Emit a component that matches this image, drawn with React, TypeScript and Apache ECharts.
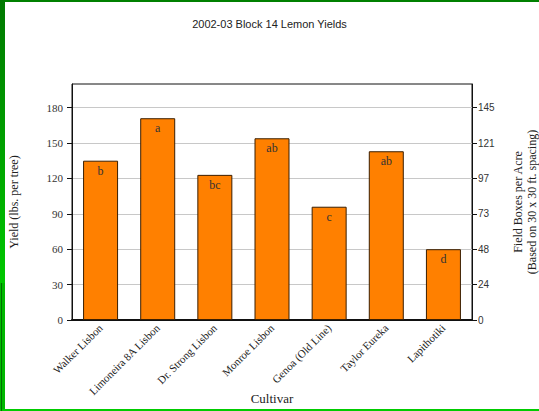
import React, { useEffect, useRef } from "react";
import * as echarts from "echarts";

const categories = [
  "Walker Lisbon",
  "Limoneira 8A Lisbon",
  "Dr. Strong Lisbon",
  "Monroe Lisbon",
  "Genoa (Old Line)",
  "Taylor Eureka",
  "Lapithotiki",
];
const yields = [135, 171, 123, 154, 96, 143, 60];
const letters = ["b", "a", "bc", "ab", "c", "ab", "d"];
const leftTicks = [0, 30, 60, 90, 120, 150, 180];
// 30 x 30 ft spacing -> 48.4 trees/acre; 60 lbs per field box
const boxFactor = 43560 / 900 / 60;

const SERIF = "'Liberation Serif', 'Times New Roman', serif";
const SANS = "'Liberation Sans', Arial, sans-serif";

export default function App() {
  const ref = useRef<HTMLDivElement>(null);
  useEffect(() => {
    document.body.style.margin = "0";
    const chart = echarts.init(ref.current!, null, { renderer: "svg" });
    chart.setOption({
      animation: false,
      backgroundColor: "#ffffff",
      title: {
        text: "2002-03 Block 14 Lemon Yields",
        left: "center",
        top: 13,
        textStyle: { fontFamily: SANS, fontSize: 11, fontWeight: "normal", color: "#222" },
      },
      grid: {
        left: 72,
        right: 67,
        top: 84,
        bottom: 91,
        show: true,
        borderColor: "#111",
        borderWidth: 1,
        outerBoundsMode: "none",
        containLabel: false,
      },
      xAxis: {
        type: "category",
        data: categories,
        name: "Cultivar",
        nameLocation: "middle",
        nameGap: 72,
        nameMoveOverlap: false,
        nameTextStyle: { fontFamily: SERIF, fontSize: 13, color: "#222" },
        axisLine: { lineStyle: { color: "#111", width: 2 } },
        axisTick: { alignWithLabel: true, length: 4, lineStyle: { color: "#111" } },
        axisLabel: {
          rotate: 45,
          fontFamily: SERIF,
          fontSize: 11,
          color: "#222",
          margin: 6,
          interval: 0,
        },
      },
      yAxis: [
        {
          type: "value",
          min: 0,
          max: 200,
          interval: 30,
          name: "Yield (lbs. per tree)",
          nameLocation: "middle",
          nameRotate: 90,
          nameGap: 52,
          nameMoveOverlap: false,
          nameTextStyle: { fontFamily: SERIF, fontSize: 12, color: "#222" },
          axisLine: { show: true, lineStyle: { color: "#111" } },
          axisTick: { show: true, length: 5, lineStyle: { color: "#111" }, customValues: leftTicks },
          axisLabel: {
            fontFamily: SERIF,
            fontSize: 11,
            color: "#333",
            margin: 9,
            customValues: leftTicks,
          },
          splitLine: { show: true, lineStyle: { color: "#c8c8c8", width: 1 } },
        },
        {
          type: "value",
          min: 0,
          max: 200,
          interval: 30,
          position: "right",
          name: "Field Boxes per Acre\n(Based on 30 x 30 ft. spacing)",
          nameLocation: "middle",
          nameRotate: 90,
          nameGap: 39,
          nameMoveOverlap: false,
          nameTextStyle: { fontFamily: SERIF, fontSize: 12, color: "#222", lineHeight: 14 },
          axisLine: { show: true, lineStyle: { color: "#111" } },
          axisTick: { show: true, length: 5, lineStyle: { color: "#111" }, customValues: leftTicks },
          axisLabel: {
            fontFamily: SANS,
            fontSize: 10,
            color: "#333",
            margin: 6,
            customValues: leftTicks,
            formatter: (v: number) => String(Math.round(v * boxFactor)),
          },
          splitLine: { show: false },
        },
      ],
      series: [
        {
          type: "bar",
          data: yields,
          barWidth: 35,
          itemStyle: { color: "#ff8000", borderColor: "#3a1e00", borderWidth: 1 },
          label: {
            show: true,
            position: "insideTop",
            distance: 4,
            fontFamily: SERIF,
            fontSize: 12,
            color: "#333",
            formatter: (p: any) => letters[p.dataIndex],
          },
        },
      ],
      graphic: [
        { type: "rect", left: 0, top: 0, shape: { width: 539, height: 2 }, style: { fill: "#008000" }, z: 100 },
        {
          type: "rect",
          left: 0,
          top: 0,
          shape: { width: 5, height: 283 },
          style: {
            fill: new echarts.graphic.LinearGradient(0, 0, 0, 1, [
              { offset: 0, color: "#007800" },
              { offset: 1, color: "#00c800" },
            ]),
          },
          z: 100,
        },
        { type: "rect", left: 0, top: 283, shape: { width: 5, height: 128 }, style: { fill: "#00b800" }, z: 100 },
        { type: "rect", left: 1, top: 283, shape: { width: 1, height: 128 }, style: { fill: "#007000" }, z: 101 },
        { type: "rect", left: 0, top: 409, shape: { width: 539, height: 2 }, style: { fill: "#00cc00" }, z: 100 },
      ],
    });
    return () => chart.dispose();
  }, []);
  return <div ref={ref} style={{ position: "absolute", left: 0, top: 0, width: 539, height: 411 }} />;
}
